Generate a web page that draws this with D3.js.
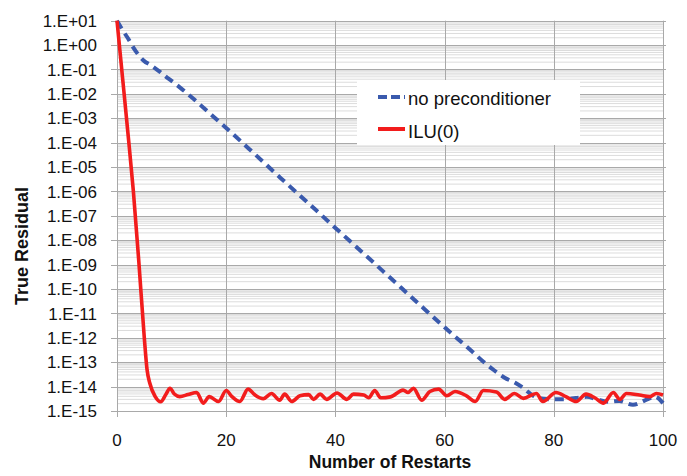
<!DOCTYPE html>
<html>
<head>
<meta charset="utf-8">
<script src="https://cdn.jsdelivr.net/npm/d3@7"></script>
<style>
  html, body { margin: 0; padding: 0; background: #fff; }
  svg { display: block; }
  text { font-family: "Liberation Sans", Arial, sans-serif; fill: #111; }
</style>
</head>
<body>
<svg id="chart" width="687" height="476"></svg>
<script>
// ---------------- data ----------------
const seriesNames = ["no preconditioner", "ILU(0)"];

const noPrecRestarts = [0, 1, 2, 3, 4, 5, 6, 7, 8, 9, 10, 12, 14, 16, 18, 20, 25, 30, 35, 40, 45, 50, 55, 60, 65, 67, 69, 71, 73, 74.5, 76, 78, 80, 82, 84, 86, 88, 90, 92, 94.5, 97, 98.5, 100];
const noPrecResidual = [1e1, 4.2e0, 1.9e0, 7.9e-1, 3.8e-1, 2.2e-1, 1.6e-1, 1.12e-1, 7.6e-2, 5.0e-2, 3.4e-2, 1.5e-2, 6.3e-3, 2.5e-3, 1.0e-3, 4.0e-4, 3.8e-5, 3.5e-6, 3.4e-7, 3.2e-8, 3.1e-9, 2.95e-10, 2.8e-11, 2.7e-12, 2.8e-13, 1.1e-13, 4.8e-14, 2.3e-14, 1.4e-14, 8.5e-15, 4.5e-15, 3.2e-15, 3.0e-15, 3.0e-15, 3.4e-15, 3.8e-15, 3.0e-15, 2.4e-15, 2.6e-15, 1.8e-15, 2.9e-15, 3.9e-15, 2.1e-15];

const iluRestarts = [0, 1, 2, 3, 4, 5, 5.5, 6, 7, 8, 9, 9.7, 10.5, 11.5, 13, 14.6, 15.8, 16.9, 18.6, 20, 21, 22.5, 24, 25.3, 26.8, 28.3, 29.8, 30.7, 32, 33.5, 35.1, 36, 37.2, 38.4, 40.3, 42.1, 43.3, 45.2, 46.1, 47.2, 48.3, 50.1, 52.4, 53.3, 54.3, 55.8, 57.3, 58.9, 60.4, 61.9, 64, 65.6, 67.1, 69.5, 71, 72.8, 74.4, 76.8, 78, 80.4, 82.2, 84.1, 85.9, 87.5, 89.1, 90.9, 92.1, 93.3, 95.7, 97.6, 98.8, 100];
const iluResidual = [1e1, 5.0e-2, 2.5e-4, 1.0e-6, 1.3e-9, 1.0e-12, 5.0e-14, 1.4e-14, 3.9e-15, 2.4e-15, 5.0e-15, 8.5e-15, 5.0e-15, 3.9e-15, 4.7e-15, 5.75e-15, 2.1e-15, 3.9e-15, 2.45e-15, 6.9e-15, 4.0e-15, 2.45e-15, 7.9e-15, 4.5e-15, 3.2e-15, 5.2e-15, 2.8e-15, 4.9e-15, 2.45e-15, 4.2e-15, 4.7e-15, 3.0e-15, 4.9e-15, 3.0e-15, 5.5e-15, 3.0e-15, 4.9e-15, 4.5e-15, 3.5e-15, 6.9e-15, 3.5e-15, 3.8e-15, 7.2e-15, 5.75e-15, 8.5e-15, 2.8e-15, 6.3e-15, 7.9e-15, 4.2e-15, 6.3e-15, 4.2e-15, 2.45e-15, 6.9e-15, 6.0e-15, 3.0e-15, 5.2e-15, 3.3e-15, 5.2e-15, 2.45e-15, 5.75e-15, 3.9e-15, 2.45e-15, 4.9e-15, 3.5e-15, 2.1e-15, 5.75e-15, 3.0e-15, 5.2e-15, 4.5e-15, 3.9e-15, 5.2e-15, 4.5e-15];

const xTicks = [0, 20, 40, 60, 80, 100];
const yTickExponents = [1, 0, -1, -2, -3, -4, -5, -6, -7, -8, -9, -10, -11, -12, -13, -14, -15];
const yTickLabels = ["1.E+01", "1.E+00", "1.E-01", "1.E-02", "1.E-03", "1.E-04", "1.E-05", "1.E-06", "1.E-07", "1.E-08", "1.E-09", "1.E-10", "1.E-11", "1.E-12", "1.E-13", "1.E-14", "1.E-15"];
const xTitle = "Number of Restarts";
const yTitle = "True Residual";

// ---------------- layout ----------------
const svg = d3.select("#chart");
const plotLeft = 117, plotRight = 663, plotTop = 20.7, plotBottom = 411;

const x = d3.scaleLinear().domain([0, 100]).range([plotLeft, plotRight]);
const y = d3.scaleLog().domain([1e-15, 1e1]).range([plotBottom, plotTop]);

const majorVals = yTickExponents.map(e => Math.pow(10, e));
const minorVals = [];
yTickExponents.forEach(e => {
  if (e < 1) for (let m = 2; m <= 9; m++) minorVals.push(m * Math.pow(10, e));
});

// minor horizontal grid
svg.append("g").selectAll("line").data(minorVals).join("line")
  .attr("x1", plotLeft).attr("x2", plotRight)
  .attr("y1", d => y(d)).attr("y2", d => y(d))
  .attr("stroke", "#dcdcdc").attr("stroke-width", 1);

// major horizontal grid
svg.append("g").selectAll("line").data(majorVals).join("line")
  .attr("x1", plotLeft - 6).attr("x2", plotRight + 3)
  .attr("y1", d => Math.round(y(d)) + 0.5).attr("y2", d => Math.round(y(d)) + 0.5)
  .attr("stroke", "#a9a9a9").attr("stroke-width", 1);

// vertical grid
svg.append("g").selectAll("line").data(xTicks).join("line")
  .attr("x1", d => Math.round(x(d)) + 0.5).attr("x2", d => Math.round(x(d)) + 0.5)
  .attr("y1", plotTop).attr("y2", plotBottom + 6)
  .attr("stroke", "#a9a9a9").attr("stroke-width", 1);

// y tick labels
svg.append("g").selectAll("text").data(majorVals).join("text")
  .attr("x", 97).attr("y", d => y(d))
  .attr("dy", "0.36em")
  .attr("text-anchor", "end")
  .style("font-size", "17px")
  .text((d, i) => yTickLabels[i]);

// x tick labels
svg.append("g").selectAll("text").data(xTicks).join("text")
  .attr("x", d => x(d)).attr("y", 446)
  .attr("text-anchor", "middle")
  .style("font-size", "17px")
  .text(d => d);

// axis titles
svg.append("text")
  .attr("x", 390).attr("y", 468)
  .attr("text-anchor", "middle")
  .style("font-size", "17.5px").style("font-weight", "bold")
  .text(xTitle);

svg.append("text")
  .attr("transform", "translate(28,246) rotate(-90)")
  .attr("text-anchor", "middle")
  .style("font-size", "18px").style("font-weight", "bold")
  .text(yTitle);

// lines
const line = d3.line()
  .x(d => x(d[0]))
  .y(d => y(d[1]))
  .curve(d3.curveMonotoneX);

const noPrecData = noPrecRestarts.map((r, i) => [r, noPrecResidual[i]]);
const iluData = iluRestarts.map((r, i) => [r, iluResidual[i]]);

const blue = "#3a5aad";
const red = "#f21c1c";

svg.append("path").datum(noPrecData)
  .attr("d", line)
  .attr("fill", "none")
  .attr("stroke", blue)
  .attr("stroke-width", 4)
  .attr("stroke-dasharray", "9,6");

svg.append("path").datum(iluData)
  .attr("d", line)
  .attr("fill", "none")
  .attr("stroke", red)
  .attr("stroke-width", 3.6)
  .attr("stroke-linejoin", "round");

// legend
const lg = svg.append("g");
lg.append("rect")
  .attr("x", 357).attr("y", 80).attr("width", 223).attr("height", 65)
  .attr("fill", "#fff");

const legendItems = [
  { name: seriesNames[0], color: blue, dash: "9,4", ly: 97, ty: 105 },
  { name: seriesNames[1], color: red, dash: null, ly: 129, ty: 138 }
];
legendItems.forEach(it => {
  lg.append("line")
    .attr("x1", 378).attr("x2", 405)
    .attr("y1", it.ly).attr("y2", it.ly)
    .attr("stroke", it.color).attr("stroke-width", 4)
    .attr("stroke-dasharray", it.dash);
  lg.append("text")
    .attr("x", 408).attr("y", it.ty)
    .style("font-size", "18.5px")
    .text(it.name);
});
</script>
</body>
</html>
